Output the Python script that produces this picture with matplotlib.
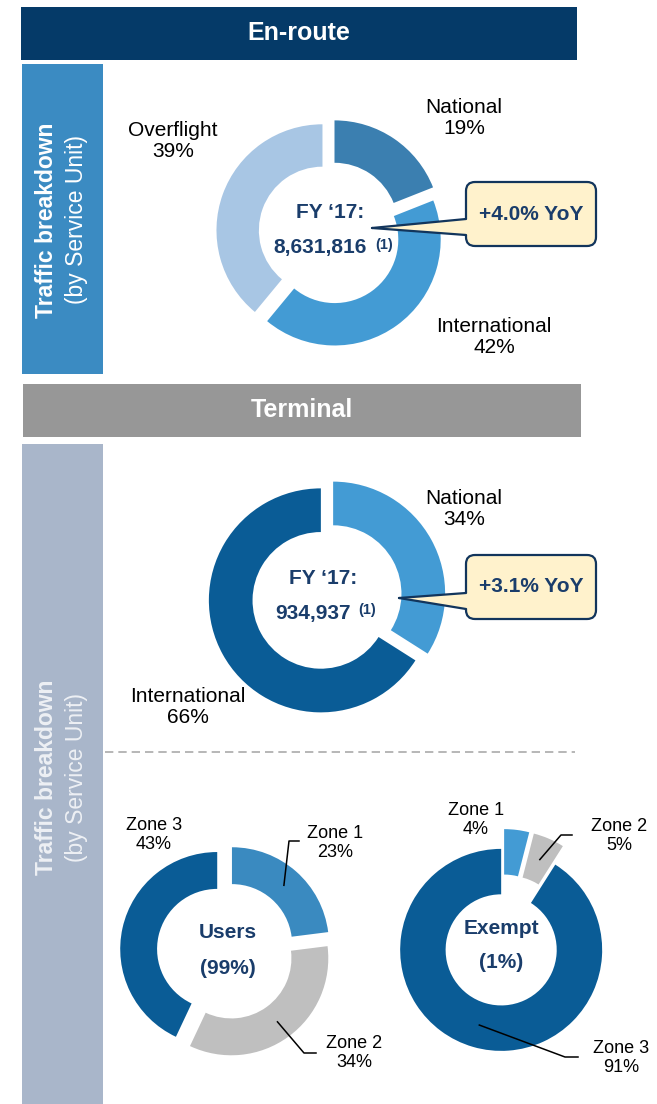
import matplotlib
matplotlib.use("Agg")
import matplotlib.pyplot as plt
import numpy as np
from matplotlib.patches import Rectangle, FancyBboxPatch, Polygon

plt.rcParams["font.family"] = ["Liberation Sans", "DejaVu Sans"]

W, H = 657, 1104

# --- data ---------------------------------------------------------------
enroute_labels = ["National", "International", "Overflight"]
enroute_share = [19, 42, 39]
enroute_total = "8,631,816"
enroute_yoy = "+4.0% YoY"

terminal_labels = ["National", "International"]
terminal_share = [34, 66]
terminal_total = "934,937"
terminal_yoy = "+3.1% YoY"

users_labels = ["Zone 1", "Zone 2", "Zone 3"]
users_share = [23, 34, 43]
users_part = "(99%)"

exempt_labels = ["Zone 1", "Zone 2", "Zone 3"]
exempt_share = [4, 5, 91]
exempt_part = "(1%)"

# --- colours ------------------------------------------------------------
NAVY = "#1A3D6B"
BOX_EDGE = "#12355C"
BOX_FILL = "#FFF2CC"
C_DARK = "#0A5C96"
C_MID = "#3B7FB0"
C_LIGHT = "#439BD4"
C_PALE = "#A8C6E4"
C_GREY = "#BFBFBF"


def Y(y):
    # image rows (top-down) -> axis coords (bottom-up)
    return H - y


fig = plt.figure(figsize=(W / 100, H / 100), dpi=100)
ax = fig.add_axes([0, 0, 1, 1])


def rect(x0, y0, x1, y1, color):
    ax.add_patch(Rectangle((x0, Y(y1)), x1 - x0, y1 - y0, facecolor=color,
                           edgecolor="none", zorder=1))


# headers and side bars
rect(21, 7, 577, 60, "#053A68")
ax.text(299, Y(33), "En-route", ha="center", va="center", color="white",
        fontsize=18, fontweight="bold")
rect(22, 64, 103, 374, "#3B8BC2")
ax.text(47, Y(220), "Traffic breakdown", rotation=90, ha="center", va="center",
        color="white", fontsize=16.5, fontweight="bold")
ax.text(77, Y(220), "(by Service Unit)", rotation=90, ha="center", va="center",
        color="white", fontsize=16.5)

rect(23, 384, 581, 437, "#979797")
ax.text(302, Y(410), "Terminal", ha="center", va="center", color="white",
        fontsize=18, fontweight="bold")
rect(22, 444, 103, 1104, "#A9B6CA")
ax.text(47, Y(777), "Traffic breakdown", rotation=90, ha="center", va="center",
        color="white", alpha=0.8, fontsize=16.5, fontweight="bold")
ax.text(77, Y(777), "(by Service Unit)", rotation=90, ha="center", va="center",
        color="white", alpha=0.8, fontsize=16.5)

ax.plot([105, 575], [Y(752), Y(752)], color="#AAAAAA", lw=1.2,
        linestyle=(0, (5, 3)), zorder=1)


def donut(shares, colors, cx, cy, r, width, explode):
    # explode is an offset in pixels here (the axes is in pixel units)
    wedges, _ = ax.pie(shares, colors=colors, startangle=90, counterclock=False,
                       center=(cx, Y(cy)), radius=r, explode=explode,
                       wedgeprops=dict(width=width * r, edgecolor="none"),
                       frame=True)
    return wedges


def ring_mid(wedge):
    # point in the middle of the ring along the wedge's mid angle
    th = np.deg2rad((wedge.theta1 + wedge.theta2) / 2)
    rm = wedge.r - wedge.width / 2
    cx, cy = wedge.center
    return cx + rm * np.cos(th), cy + rm * np.sin(th)


def label(x, y, name, pct, size=15):
    ax.text(x, Y(y), f"{name}\n{pct}%", ha="center", va="center", fontsize=size,
            color="black", linespacing=1.15)


def callout(x0, y0, x1, y1, tip, base_y0, base_y1, text):
    ax.add_patch(FancyBboxPatch((x0, Y(y1)), x1 - x0, y1 - y0,
                                boxstyle="round,pad=0,rounding_size=9",
                                facecolor=BOX_FILL, edgecolor=BOX_EDGE, lw=1.6,
                                zorder=5))
    tx, ty = tip
    ax.add_patch(Polygon([(tx, Y(ty)), (x0 + 4, Y(base_y0)), (x0 + 4, Y(base_y1))],
                         closed=True, facecolor=BOX_FILL, edgecolor="none",
                         zorder=6))
    ax.plot([tx, x0], [Y(ty), Y(base_y0)], color=BOX_EDGE, lw=1.6, zorder=7,
            solid_capstyle="round")
    ax.plot([tx, x0], [Y(ty), Y(base_y1)], color=BOX_EDGE, lw=1.6, zorder=7,
            solid_capstyle="round")
    ax.text((x0 + x1) / 2, Y((y0 + y1) / 2), text, ha="center", va="center",
            fontsize=15, fontweight="bold", color=NAVY, zorder=8)


def centre_total(x, y_top, y_bot, total, sup_dx):
    ax.text(x, Y(y_top), "FY \u201817:", ha="center", va="center", fontsize=15,
            fontweight="bold", color=NAVY, zorder=4)
    ax.text(x - 10, Y(y_bot), total, ha="center", va="center", fontsize=15,
            fontweight="bold", color=NAVY, zorder=4)
    ax.text(x - 10 + sup_dx, Y(y_bot - 3), "(1)", ha="left", va="center",
            fontsize=10.5, fontweight="bold", color=NAVY, zorder=4)


# --- En-route -----------------------------------------------------------
donut(enroute_share, [C_MID, C_LIGHT, C_PALE], 330, 233, 106, 0.40,
      [8, 8, 8])
centre_total(330, 213, 248, enroute_total, 55)
label(464, 118, enroute_labels[0], enroute_share[0])
label(494, 337, enroute_labels[1], enroute_share[1])
label(173, 141, enroute_labels[2], enroute_share[2])
callout(466, 182, 596, 246, (372, 228), 219, 235, enroute_yoy)

# --- Terminal -----------------------------------------------------------
donut(terminal_share, [C_LIGHT, C_DARK], 327, 597, 112, 0.39, [7, 7])
centre_total(323, 579, 613, terminal_total, 45)
label(464, 509, terminal_labels[0], terminal_share[0])
label(188, 707, terminal_labels[1], terminal_share[1])
callout(466, 555, 596, 619, (399, 598), 593, 609, terminal_yoy)

# --- Users ---------------------------------------------------------------
uw = donut(users_share, ["#3A8AC0", C_GREY, C_DARK], 226, 951, 97, 0.38,
           [9, 9, 9])
ax.text(228, Y(933), "Users", ha="center", va="center", fontsize=15,
        fontweight="bold", color=NAVY)
ax.text(228, Y(968), users_part, ha="center", va="center", fontsize=15,
        fontweight="bold", color=NAVY)
label(335, 843, users_labels[0], users_share[0], 13)
label(354, 1053, users_labels[1], users_share[1], 13)
label(154, 835, users_labels[2], users_share[2], 13)
sx, sy = ring_mid(uw[0])
ax.plot([sx, 289, 299], [sy, Y(841), Y(841)], color="black", lw=1.1, zorder=4)
sx, sy = ring_mid(uw[1])
ax.plot([sx, 304, 316], [sy, Y(1053), Y(1053)], color="black", lw=1.1, zorder=4)

# --- Exempt ---------------------------------------------------------------
ew = donut(exempt_share, [C_LIGHT, C_GREY, C_DARK], 502, 947, 101, 0.45,
           [17, 17, 3])
ax.text(501, Y(929), "Exempt", ha="center", va="center", fontsize=15,
        fontweight="bold", color=NAVY)
ax.text(501, Y(963), exempt_part, ha="center", va="center", fontsize=15,
        fontweight="bold", color=NAVY)
label(476, 820, exempt_labels[0], exempt_share[0], 13)
label(619, 836, exempt_labels[1], exempt_share[1], 13)
label(621, 1058, exempt_labels[2], exempt_share[2], 13)
sx, sy = ring_mid(ew[1])
ax.plot([sx, 561, 572], [sy, Y(835), Y(835)], color="black", lw=1.1, zorder=4)
sx, sy = ring_mid(ew[2])
ax.plot([sx, 565, 578], [sy, Y(1057), Y(1057)], color="black", lw=1.1, zorder=4)

ax.set_xlim(0, W)
ax.set_ylim(0, H)
ax.set_aspect("auto")
ax.axis("off")

fig.savefig("out.png", dpi=100, facecolor="white")
